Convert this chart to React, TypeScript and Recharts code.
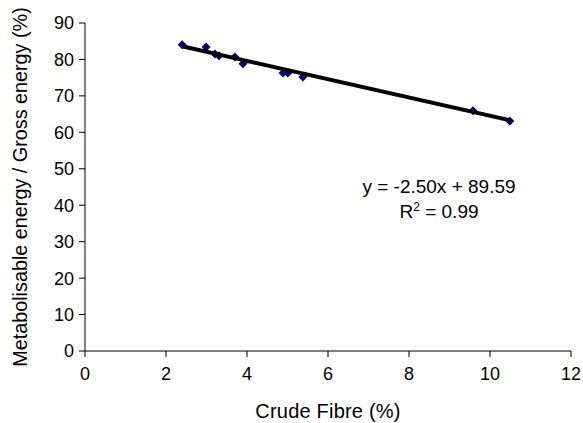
import { Label, Scatter, ScatterChart, XAxis, YAxis, ZAxis } from "recharts"

const crudeFibre = [2.4, 2.99, 3.21, 3.31, 3.7, 3.9, 4.89, 5.01, 5.38, 9.58, 10.49]
const meOverGe = [84.0, 83.4, 81.5, 81.0, 80.7, 78.8, 76.3, 76.3, 75.2, 65.9, 63.1]

const trendX = [2.4, 10.5]
const trendY = [83.6, 63.3]

const xTicks = [0, 2, 4, 6, 8, 10, 12]
const yTicks = [0, 10, 20, 30, 40, 50, 60, 70, 80, 90]

const points = crudeFibre.map((x, i) => ({ x, y: meOverGe[i] }))
const trend = trendX.map((x, i) => ({ x, y: trendY[i] }))

const font = "'Liberation Sans', Arial, sans-serif"
const tickStyle = { fontSize: 18, fill: "#000", fontFamily: font }

// small square diamond, like the Excel marker
const Diamond = (props: any) => {
  const { cx, cy } = props
  const r = 4.5
  return (
    <polygon
      points={`${cx},${cy - r} ${cx + r},${cy} ${cx},${cy + r} ${cx - r},${cy}`}
      fill="#000080"
    />
  )
}

export default function App() {
  return (
    <div style={{ position: "absolute", left: 0, top: 0, width: 583, height: 423, fontFamily: font }}>
      <ScatterChart width={583} height={423} margin={{ top: 23, right: 12, bottom: 0, left: 0 }}>
        <XAxis
          type="number"
          dataKey="x"
          domain={[0, 12]}
          ticks={xTicks}
          height={72}
          stroke="#000"
          tickSize={6}
          tickMargin={10}
          tick={tickStyle}
          axisLine={{ stroke: "#000" }}
        >
          <Label
            value="Crude Fibre (%)"
            position="insideBottom"
            offset={5}
            style={{ fontSize: 20, letterSpacing: 0.2, fill: "#000", fontFamily: font }}
          />
        </XAxis>
        <YAxis
          type="number"
          dataKey="y"
          domain={[0, 90]}
          ticks={yTicks}
          width={85}
          stroke="#000"
          tickSize={6}
          tickMargin={5}
          tick={tickStyle}
          axisLine={{ stroke: "#000" }}
        >
          <Label
            value="Metabolisable energy / Gross energy (%)"
            angle={-90}
            position="insideLeft"
            offset={20}
            style={{ fontSize: 19.8, fill: "#000", fontFamily: font, textAnchor: "middle" }}
          />
        </YAxis>
        <ZAxis range={[45, 45]} />
        <Scatter data={points} shape={<Diamond />} isAnimationActive={false} />
        <Scatter
          data={trend}
          line={{ stroke: "#000", strokeWidth: 4 }}
          shape={() => null}
          isAnimationActive={false}
        />
      </ScatterChart>
      <div
        style={{
          position: "absolute",
          left: 339,
          top: 174,
          width: 200,
          textAlign: "center",
          fontSize: 19,
          lineHeight: "25px",
          color: "#000",
        }}
      >
        <div>y = -2.50x + 89.59</div>
        <div>
          R<sup style={{ fontSize: 12, verticalAlign: 0, position: "relative", top: -7 }}>2</sup> = 0.99
        </div>
      </div>
    </div>
  )
}
